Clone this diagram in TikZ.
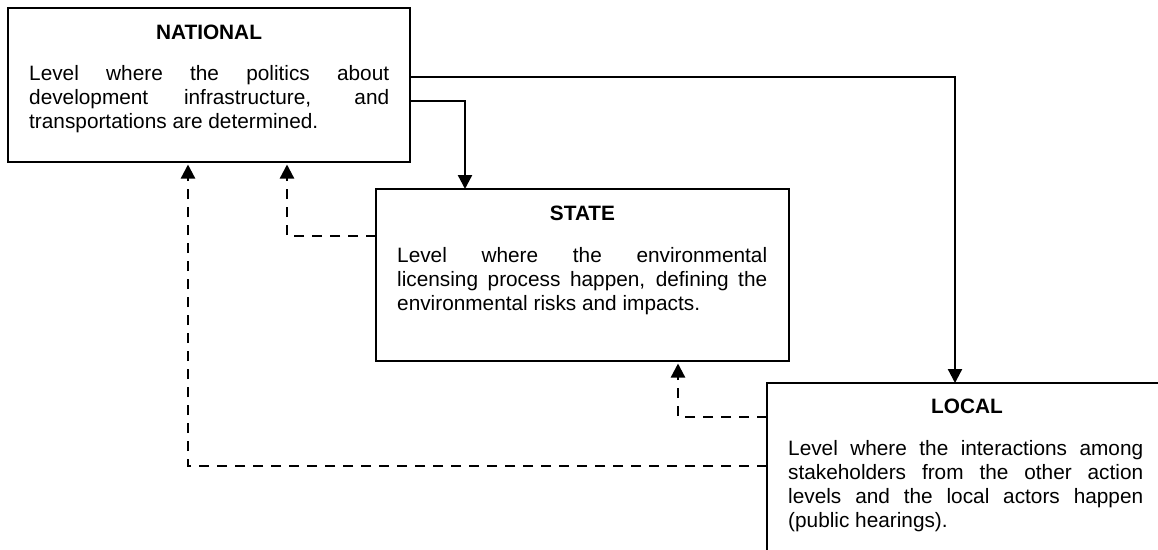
\documentclass[tikz,border=0pt]{standalone}
\usepackage{fontspec}
\setmainfont{Liberation Sans}
\usetikzlibrary{arrows.meta}
\begin{document}
\begin{tikzpicture}[x=1pt,y=-1pt,
  box/.style={draw, line width=2pt, inner sep=0pt, outer sep=0pt, anchor=north west},
  titletext/.style={font=\bfseries\fontsize{20.8}{24}\selectfont, anchor=base, inner sep=0pt},
  bodytext/.style={font=\fontsize{20.8}{24}\selectfont, anchor=base west, inner sep=0pt},
  conn/.style={line width=2.3pt, -{Triangle[length=14pt,width=14pt]}},
  back/.style={conn, dash pattern=on 10.5pt off 7.5pt, shorten >=2.5pt}]
\useasboundingbox (0,0) rectangle (1158,549);
\clip (0,0) rectangle (1158,549);
\fill[white] (0,0) rectangle (1158,549);

% boxes
\node[box, minimum width=402pt, minimum height=154pt] (nat) at (8,8) {};
\node[box, minimum width=413pt, minimum height=172pt] (sta) at (376,189) {};
\node[box, minimum width=400pt, minimum height=220pt] (loc) at (767,383) {};

% titles
\node[titletext] (natt) at (209,39.5) {NATIONAL};
\node[titletext] (stat) at (582.5,220) {STATE};
\node[titletext] (loct) at (967,413) {LOCAL};

% bodies
\node[bodytext] (natb) at (29,80.5) {\parbox[t]{360pt}{Level where the politics about\linebreak development infrastructure, and\linebreak transportations are determined.}};
\node[bodytext] (stab) at (397,262) {\parbox[t]{370pt}{Level where the environmental\linebreak licensing process happen, defining the\linebreak environmental risks and impacts.}};
\node[bodytext] (locb) at (788,455.5) {\parbox[t]{355pt}{Level where the interactions among\linebreak stakeholders from the other action\linebreak levels and the local actors happen\linebreak (public hearings).}};

% bend columns
\coordinate (c1) at (955,0);
\coordinate (c2) at (465,0);
\coordinate (c3) at (287,0);
\coordinate (c4) at (678,0);
\coordinate (c5) at (188,0);

% solid connectors
\draw[conn] ([yshift=8pt]nat.east) -| (c1 |- loc.north);
\draw[conn] ([yshift=-16pt]nat.east) -| (c2 |- sta.north);

% dashed feedback connectors
\draw[back] ([yshift=39pt]sta.west) -| (c3 |- nat.south);
\draw[back] ([yshift=76pt]loc.west) -| (c4 |- sta.south);
\draw[back] ([yshift=27pt]loc.west) -| (c5 |- nat.south);
\end{tikzpicture}
\end{document}
